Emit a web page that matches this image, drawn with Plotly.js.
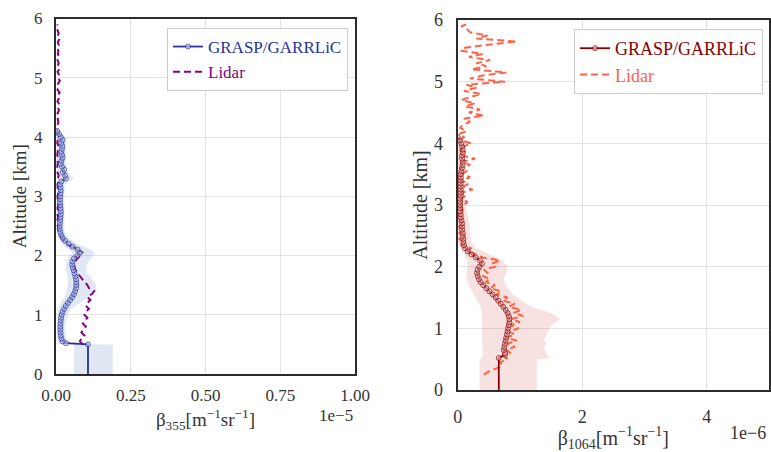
<!DOCTYPE html>
<html>
<head>
<meta charset="utf-8">
<script src="https://cdn.plot.ly/plotly-3.0.1.min.js"></script>
<style>html,body{margin:0;padding:0;background:#fff;}#chart{width:771px;height:452px;}</style>
</head>
<body>
<div id="chart"></div>
<script>
// ---------- Left panel (355 nm), x in units of 1e-5 ----------
const leftGraspAlt = [0, 0.5, 0.52, 0.55, 0.6, 0.65, 0.7, 0.75, 0.8, 0.85, 0.9, 0.95, 1.0, 1.05, 1.1, 1.15, 1.2, 1.25, 1.3, 1.35, 1.4, 1.45, 1.5, 1.55, 1.6, 1.65, 1.7, 1.75, 1.8, 1.85, 1.9, 1.95, 2.0, 2.05, 2.1, 2.15, 2.2, 2.25, 2.3, 2.35, 2.4, 2.45, 2.5, 2.55, 2.6, 2.65, 2.7, 2.75, 2.8, 2.85, 2.9, 2.95, 3.0, 3.05, 3.1, 3.15, 3.2, 3.25, 3.3, 3.35, 3.4, 3.45, 3.5, 3.55, 3.6, 3.65, 3.7, 3.75, 3.8, 3.85, 3.9, 3.95, 4.0, 4.05, 4.1];
const leftGraspVal = [0.107, 0.107, 0.033, 0.022, 0.018, 0.016, 0.015, 0.015, 0.015, 0.015, 0.016, 0.017, 0.019, 0.022, 0.027, 0.033, 0.040, 0.047, 0.054, 0.060, 0.064, 0.067, 0.068, 0.068, 0.067, 0.065, 0.062, 0.059, 0.056, 0.054, 0.055, 0.060, 0.072, 0.080, 0.072, 0.055, 0.042, 0.030, 0.022, 0.017, 0.014, 0.012, 0.012, 0.013, 0.014, 0.015, 0.016, 0.016, 0.015, 0.014, 0.013, 0.013, 0.014, 0.015, 0.016, 0.015, 0.013, 0.018, 0.033, 0.030, 0.022, 0.027, 0.020, 0.016, 0.018, 0.022, 0.020, 0.018, 0.020, 0.021, 0.018, 0.022, 0.016, 0.010, 0.004];

const leftBandAlt = [0, 0.5, 0.51, 0.6, 0.8, 1.0, 1.1, 1.2, 1.3, 1.4, 1.5, 1.6, 1.7, 1.8, 1.9, 2.0, 2.05, 2.1, 2.2, 2.3, 2.4, 2.6, 3.0, 3.2, 3.3, 3.4, 3.6, 3.8, 4.0, 4.1];
const leftBandLow = [0.06, 0.06, 0.005, 0.004, 0.004, 0.006, 0.008, 0.015, 0.028, 0.035, 0.040, 0.040, 0.036, 0.032, 0.035, 0.045, 0.055, 0.040, 0.020, 0.008, 0.004, 0.003, 0.004, 0.004, 0.010, 0.006, 0.004, 0.004, 0.003, 0.0];
const leftBandHigh = [0.19, 0.19, 0.045, 0.033, 0.030, 0.040, 0.050, 0.080, 0.110, 0.130, 0.135, 0.120, 0.105, 0.100, 0.110, 0.125, 0.130, 0.115, 0.070, 0.040, 0.028, 0.028, 0.028, 0.030, 0.060, 0.040, 0.032, 0.033, 0.030, 0.010];

const leftLidarAlt = [0.5, 0.55, 0.6, 0.65, 0.7, 0.75, 0.8, 0.85, 0.9, 0.95, 1.0, 1.05, 1.1, 1.15, 1.2, 1.25, 1.3, 1.35, 1.4, 1.45, 1.5, 1.55, 1.6, 1.65, 1.7, 1.75, 1.8, 1.85, 1.9, 1.95, 2.0, 2.05, 2.1, 2.15, 2.2, 2.25, 2.3, 2.35, 2.4, 2.45, 2.5, 2.55, 2.6, 2.65, 2.7, 2.75, 2.8, 2.85, 2.9, 2.95, 3.0, 3.05, 3.1, 3.15, 3.2, 3.25, 3.3, 3.35, 3.4, 3.45, 3.5, 3.55, 3.6, 3.65, 3.7, 3.75, 3.8, 3.85, 3.9, 3.95, 4.0, 4.05, 4.1, 4.15, 4.2, 4.25, 4.3, 4.35, 4.4, 4.45, 4.5, 4.55, 4.6, 4.65, 4.7, 4.75, 4.8, 4.85, 4.9, 4.95, 5.0, 5.05, 5.1, 5.15, 5.2, 5.25, 5.3, 5.35, 5.4, 5.45, 5.5, 5.55, 5.6, 5.65, 5.7, 5.75, 5.8, 5.85, 5.9];
const leftLidarVal = [0.090, 0.080, 0.085, 0.095, 0.085, 0.090, 0.100, 0.090, 0.097, 0.105, 0.095, 0.100, 0.110, 0.100, 0.105, 0.115, 0.105, 0.120, 0.128, 0.110, 0.105, 0.098, 0.088, 0.080, 0.072, 0.066, 0.062, 0.060, 0.064, 0.072, 0.082, 0.088, 0.070, 0.050, 0.035, 0.025, 0.018, 0.012, 0.009, 0.008, 0.006, 0.009, 0.005, 0.007, 0.004, 0.008, 0.005, 0.007, 0.004, 0.006, 0.005, 0.007, 0.004, 0.006, 0.005, 0.008, 0.006, 0.009, 0.005, 0.007, 0.004, 0.006, 0.005, 0.007, 0.004, 0.006, 0.005, 0.008, 0.004, 0.006, 0.005, 0.007, 0.004, 0.006, 0.005, 0.008, 0.006, 0.009, 0.005, 0.010, 0.006, 0.011, 0.005, 0.009, 0.006, 0.012, 0.005, 0.010, 0.007, 0.013, 0.006, 0.010, 0.005, 0.012, 0.006, 0.009, 0.005, 0.011, 0.006, 0.008, 0.004, 0.009, 0.006, 0.011, 0.005, 0.009, 0.005, 0.008, 0.004];

// ---------- Right panel (1064 nm), x in units of 1e-6 ----------
const rightGraspAlt = [0, 0.52, 0.57, 0.6, 0.65, 0.7, 0.75, 0.8, 0.85, 0.9, 0.95, 1.0, 1.05, 1.1, 1.15, 1.2, 1.25, 1.3, 1.35, 1.4, 1.45, 1.5, 1.55, 1.6, 1.65, 1.7, 1.75, 1.8, 1.85, 1.9, 1.95, 2.0, 2.05, 2.1, 2.15, 2.2, 2.25, 2.3, 2.35, 2.4, 2.45, 2.5, 2.55, 2.6, 2.65, 2.7, 2.75, 2.8, 2.85, 2.9, 2.95, 3.0, 3.05, 3.1, 3.15, 3.2, 3.25, 3.3, 3.35, 3.4, 3.45, 3.5, 3.55, 3.6, 3.65, 3.7, 3.75, 3.8, 3.85, 3.9, 3.95, 4.0, 4.05, 4.1];
const rightGraspVal = [0.66, 0.66, 0.76, 0.76, 0.74, 0.75, 0.76, 0.77, 0.78, 0.79, 0.80, 0.81, 0.82, 0.83, 0.83, 0.82, 0.80, 0.77, 0.73, 0.69, 0.65, 0.61, 0.56, 0.51, 0.46, 0.41, 0.37, 0.34, 0.32, 0.31, 0.32, 0.35, 0.39, 0.36, 0.29, 0.22, 0.16, 0.12, 0.10, 0.09, 0.09, 0.08, 0.08, 0.07, 0.07, 0.07, 0.06, 0.05, 0.05, 0.04, 0.04, 0.04, 0.04, 0.04, 0.05, 0.05, 0.05, 0.05, 0.05, 0.05, 0.05, 0.05, 0.06, 0.07, 0.08, 0.08, 0.07, 0.07, 0.08, 0.08, 0.07, 0.06, 0.03, 0.0];

const rightBandAlt = [0, 0.5, 0.52, 0.6, 0.7, 0.75, 0.8, 0.85, 0.95, 1.05, 1.15, 1.25, 1.35, 1.45, 1.55, 1.65, 1.8, 1.9, 2.0, 2.1, 2.15, 2.22, 2.3, 2.4, 2.6, 2.8, 3.0, 3.2, 3.5, 3.8, 4.0, 4.1];
const rightBandLow = [0.35, 0.35, 0.40, 0.40, 0.40, 0.40, 0.40, 0.40, 0.40, 0.40, 0.40, 0.39, 0.37, 0.32, 0.26, 0.20, 0.15, 0.14, 0.16, 0.16, 0.14, 0.10, 0.04, 0.01, 0.0, 0.0, 0.0, 0.0, 0.0, 0.0, 0.0, 0.0];
const rightBandHigh = [1.27, 1.27, 1.48, 1.42, 1.38, 1.44, 1.38, 1.40, 1.45, 1.50, 1.65, 1.50, 1.18, 1.02, 0.88, 0.80, 0.74, 0.78, 0.80, 0.72, 0.63, 0.48, 0.30, 0.22, 0.20, 0.17, 0.12, 0.10, 0.10, 0.12, 0.10, 0.02];

const rightLidarAlt = [0.25, 0.3, 0.35, 0.4, 0.45, 0.5, 0.55, 0.6, 0.65, 0.7, 0.75, 0.8, 0.85, 0.9, 0.95, 1.0, 1.05, 1.1, 1.15, 1.2, 1.25, 1.3, 1.35, 1.4, 1.45, 1.5, 1.55, 1.6, 1.65, 1.7, 1.75, 1.8, 1.85, 1.9, 1.95, 2.0, 2.05, 2.1, 2.15, 2.2, 2.25, 2.3, 2.35, 2.4, 2.45, 2.5, 2.55, 2.6, 2.65, 2.7, 2.75, 2.8, 2.85, 2.9, 2.95, 3.0, 3.05, 3.1, 3.15, 3.2, 3.25, 3.3, 3.35, 3.4, 3.45, 3.5, 3.55, 3.6, 3.65, 3.7, 3.75, 3.8, 3.85, 3.9, 3.95, 4.0, 4.05, 4.1, 4.15, 4.2, 4.25, 4.3, 4.35, 4.4, 4.45, 4.5, 4.55, 4.6, 4.65, 4.7, 4.75, 4.8, 4.85, 4.9, 4.95, 5.0, 5.05, 5.1, 5.15, 5.2, 5.25, 5.3, 5.35, 5.4, 5.45, 5.5, 5.55, 5.6, 5.65, 5.7, 5.75, 5.8, 5.85, 5.9, 5.95];
const rightLidarVal = [0.42, 0.50, 0.62, 0.72, 0.68, 0.80, 0.74, 0.85, 0.78, 0.92, 0.80, 0.95, 0.78, 0.92, 0.82, 0.98, 0.85, 1.00, 0.86, 1.05, 0.90, 1.02, 0.82, 0.92, 0.72, 0.80, 0.62, 0.70, 0.52, 0.60, 0.45, 0.52, 0.40, 0.48, 0.42, 0.60, 0.55, 0.68, 0.40, 0.30, 0.15, 0.22, 0.05, 0.12, 0.02, 0.10, 0.03, 0.08, 0.02, 0.10, 0.04, 0.09, 0.02, 0.12, 0.03, 0.09, 0.16, 0.04, 0.14, 0.06, 0.24, 0.10, 0.18, 0.05, 0.20, 0.08, 0.14, 0.03, 0.20, 0.06, 0.28, 0.08, 0.14, 0.02, 0.10, 0.22, 0.04, 0.10, 0.02, 0.14, 0.04, 0.08, 0.20, 0.10, 0.42, 0.18, 0.36, 0.12, 0.28, 0.06, 0.20, 0.38, 0.10, 0.30, 0.14, 0.76, 0.20, 0.40, 0.78, 0.22, 0.46, 0.30, 0.52, 0.18, 0.40, 0.05, 0.12, 0.50, 0.95, 0.30, 0.48, 0.20, 0.15, 0.06, 0.20];

// ---------- Tick labels ----------
const leftXTicks = [0, 0.25, 0.5, 0.75, 1.0];
const leftXTickText = ['0.00', '0.25', '0.50', '0.75', '1.00'];
const rightXTicks = [0, 2, 4];
const rightXTickText = ['0', '2', '4'];
const altTicks = [0, 1, 2, 3, 4, 5, 6];

const FONT = '"Liberation Serif", "Times New Roman", serif';
const BLUE = '#25339a';
const PURPLE = '#840084';
const DARKRED = '#8b0000';
const TOMATO = '#ff6347';

function bandX(low, high) { return low.concat(high.slice().reverse()); }
function bandY(alt) { return alt.concat(alt.slice().reverse()); }

const traces = [
  { x: bandX(leftBandLow, leftBandHigh), y: bandY(leftBandAlt), xaxis: 'x', yaxis: 'y',
    type: 'scatter', mode: 'lines', fill: 'toself', fillcolor: 'rgba(120,150,205,0.22)',
    line: { width: 0 }, showlegend: false, hoverinfo: 'skip' },
  { x: leftLidarVal, y: leftLidarAlt, xaxis: 'x', yaxis: 'y', type: 'scatter', mode: 'lines',
    line: { color: PURPLE, width: 2, dash: '7px,4px' },
    name: '<span style="color:' + PURPLE + '">Lidar</span>', legend: 'legend' },
  { x: leftGraspVal, y: leftGraspAlt, xaxis: 'x', yaxis: 'y', type: 'scatter', mode: 'lines+markers',
    line: { color: BLUE, width: 1.8 },
    marker: { symbol: 'circle', size: leftGraspAlt.map((a, i) => i === 0 ? 0 : 5), color: 'rgba(205,213,240,0.85)', line: { color: BLUE, width: 1 } },
    name: '<span style="color:' + BLUE + '">GRASP/GARRLiC</span>', legend: 'legend', legendrank: 1 },

  { x: bandX(rightBandLow, rightBandHigh), y: bandY(rightBandAlt), xaxis: 'x2', yaxis: 'y2',
    type: 'scatter', mode: 'lines', fill: 'toself', fillcolor: 'rgba(215,90,90,0.18)',
    line: { width: 0 }, showlegend: false, hoverinfo: 'skip' },
  { x: rightLidarVal, y: rightLidarAlt, xaxis: 'x2', yaxis: 'y2', type: 'scatter', mode: 'lines',
    line: { color: TOMATO, width: 2, dash: '7px,4px' },
    name: '<span style="color:' + TOMATO + '">Lidar</span>', legend: 'legend2' },
  { x: rightGraspVal, y: rightGraspAlt, xaxis: 'x2', yaxis: 'y2', type: 'scatter', mode: 'lines+markers',
    line: { color: DARKRED, width: 1.8 },
    marker: { symbol: 'circle', size: rightGraspAlt.map((a, i) => i === 0 ? 0 : 5), color: 'rgba(235,195,195,0.85)', line: { color: DARKRED, width: 1 } },
    name: '<span style="color:' + DARKRED + '">GRASP/GARRLiC</span>', legend: 'legend2', legendrank: 1 }
];

const axisCommon = {
  showline: true, mirror: true, linecolor: '#2b2b2b', linewidth: 2,
  showgrid: true, gridcolor: '#e3e3e3', gridwidth: 1, zeroline: false,
  ticks: '', tickfont: { family: FONT, size: 17, color: '#333' }
};

const layout = {
  width: 771, height: 452,
  margin: { l: 0, r: 0, t: 0, b: 0 },
  paper_bgcolor: '#fff', plot_bgcolor: '#fff',
  font: { family: FONT, color: '#333' },
  showlegend: true,
  xaxis: Object.assign({}, axisCommon, {
    domain: [56 / 771, 355 / 771], anchor: 'y', range: [0, 1],
    tickvals: leftXTicks, ticktext: leftXTickText, ticklabelstandoff: 5,
    title: { text: 'β<sub>355</sub>[m<sup>−1</sup>sr<sup>−1</sup>]', font: { family: FONT, size: 19, color: '#333' }, standoff: 8 }
  }),
  yaxis: Object.assign({}, axisCommon, {
    domain: [1 - 374 / 452, 1 - 18.5 / 452], anchor: 'x', range: [0, 6],
    tickvals: altTicks, ticklabelstandoff: 8,
    title: { text: 'Altitude [km]', font: { family: FONT, size: 19, color: '#333' }, standoff: 2 }
  }),
  xaxis2: Object.assign({}, axisCommon, {
    domain: [457.7 / 771, 769 / 771], anchor: 'y2', range: [0, 5],
    tickvals: rightXTicks, ticktext: rightXTickText, ticklabelstandoff: 9,
    tickfont: { family: FONT, size: 18, color: '#333' },
    title: { text: 'β<sub>1064</sub>[m<sup>−1</sup>sr<sup>−1</sup>]', font: { family: FONT, size: 20, color: '#333' }, standoff: 10 }
  }),
  yaxis2: Object.assign({}, axisCommon, {
    domain: [1 - 390 / 452, 1 - 20 / 452], anchor: 'x2', range: [0, 6],
    tickvals: altTicks, ticklabelstandoff: 9,
    tickfont: { family: FONT, size: 18, color: '#333' },
    title: { text: 'Altitude [km]', font: { family: FONT, size: 20, color: '#333' }, standoff: 1 }
  }),
  legend: {
    x: 167 / 771, y: 1 - 28 / 452, xanchor: 'left', yanchor: 'top',
    bgcolor: 'rgba(255,255,255,0.9)', bordercolor: '#cccccc', borderwidth: 1,
    font: { family: FONT, size: 17 }, itemwidth: 30, traceorder: 'normal'
  },
  legend2: {
    x: 574 / 771, y: 1 - 29 / 452, xanchor: 'left', yanchor: 'top',
    bgcolor: 'rgba(255,255,255,0.9)', bordercolor: '#cccccc', borderwidth: 1,
    font: { family: FONT, size: 18 }, itemwidth: 30, traceorder: 'normal'
  },
  annotations: [
    { text: '1e−5', xref: 'paper', yref: 'paper', x: 355 / 771, y: 1 - 415 / 452,
      xanchor: 'right', yanchor: 'middle', showarrow: false, font: { family: FONT, size: 17, color: '#333' } },
    { text: '1e−6', xref: 'paper', yref: 'paper', x: 768 / 771, y: 1 - 433 / 452,
      xanchor: 'right', yanchor: 'middle', showarrow: false, font: { family: FONT, size: 18, color: '#333' } }
  ]
};

Plotly.newPlot('chart', traces, layout, { displayModeBar: false, staticPlot: true });
</script>
</body>
</html>
